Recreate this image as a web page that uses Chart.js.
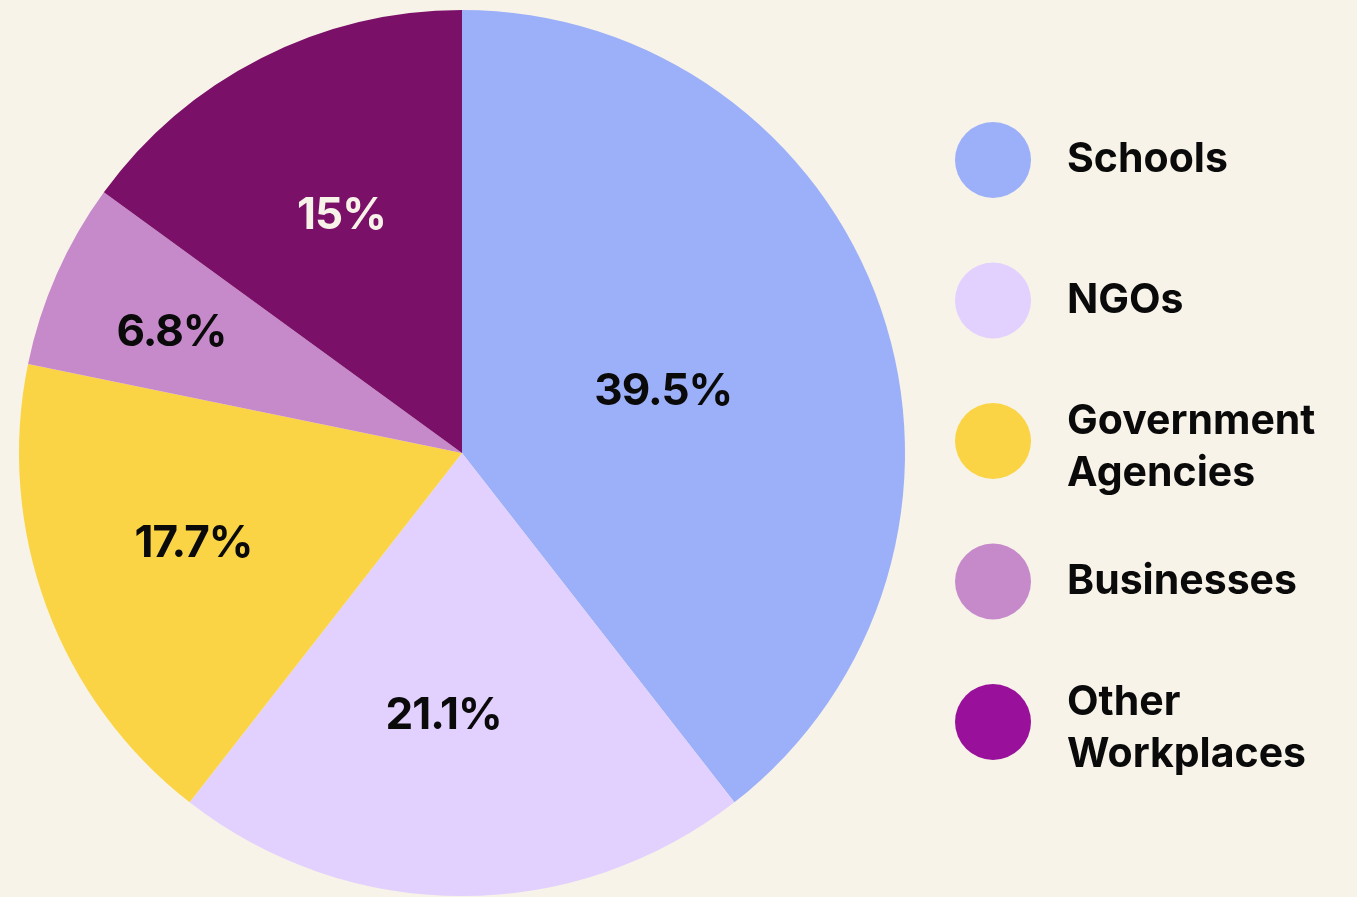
<!DOCTYPE html>
<html>
<head>
<meta charset="utf-8">
<script src="https://cdn.jsdelivr.net/npm/chart.js@4.4.1/dist/chart.umd.min.js"></script>
<style>
  html, body { margin: 0; padding: 0; background: #F7F3E9; }
  #wrap { width: 1357px; height: 897px; position: relative; }
</style>
</head>
<body>
<div id="wrap"><canvas id="pie"></canvas></div>
<script>
const categories = ['Schools', 'NGOs', 'Government Agencies', 'Businesses', 'Other Workplaces']
const legendLines = [['Schools'], ['NGOs'], ['Government', 'Agencies'], ['Businesses'], ['Other', 'Workplaces']]
const shares = [39.5, 21.1, 17.7, 6.8, 15]
const shareLabels = ['39.5%', '21.1%', '17.7%', '6.8%', '15%']

const sliceColors = ['#9CAFF9', '#E2D0FE', '#FAD444', '#C68ACB', '#7B1068']
const legendColors = ['#9CAFF9', '#E2D0FE', '#FAD444', '#C68ACB', '#99119A']
const labelColors = ['#0A0A0A', '#0A0A0A', '#0A0A0A', '#0A0A0A', '#F7F3E9']
// where each percentage sits: fraction of radius, and nudge in degrees
const labelRadius = [0.475, 0.595, 0.64, 0.71, 0.6]
const labelNudge = [2, 4, 1.5, -1.3, 0]

const FONT = 'Inter, "Liberation Sans", sans-serif'

// percentages inside the slices
const sliceLabels = {
  id: 'sliceLabels',
  afterDatasetsDraw(chart) {
    const c = chart.ctx
    const meta = chart.getDatasetMeta(0)
    c.save()
    c.font = '700 44px ' + FONT
    c.letterSpacing = '-1px'
    c.textAlign = 'center'
    c.textBaseline = 'middle'
    meta.data.forEach((arc, i) => {
      const p = arc.getProps(['x', 'y', 'startAngle', 'endAngle', 'outerRadius'], true)
      const mid = (p.startAngle + p.endAngle) / 2 + labelNudge[i] * Math.PI / 180
      const r = p.outerRadius * labelRadius[i]
      c.fillStyle = labelColors[i]
      c.fillText(shareLabels[i], p.x + Math.cos(mid) * r, p.y + Math.sin(mid) * r)
    })
    c.restore()
  }
}

// legend on the right, dots + wrapped names
const sideLegend = {
  id: 'sideLegend',
  afterDraw(chart) {
    const c = chart.ctx
    const dotX = 993, firstY = 160, step = 140.5, lineH = 52
    c.save()
    c.font = '700 41px ' + FONT
    c.textBaseline = 'middle'
    c.textAlign = 'left'
    categories.forEach((name, i) => {
      const y = firstY + i * step
      c.fillStyle = legendColors[i]
      c.beginPath()
      c.arc(dotX, y, 38, 0, Math.PI * 2)
      c.fill()
      c.fillStyle = '#0A0A0A'
      const lines = legendLines[i]
      const y0 = y - (lines.length - 1) * lineH / 2 + (lines.length > 1 ? 7 : 0)
      lines.forEach((t, j) => c.fillText(t, 1067, y0 + j * lineH))
    })
    c.restore()
  }
}

const config = {
  type: 'pie',
  data: {
    labels: categories,
    datasets: [{
      data: shares,
      backgroundColor: sliceColors,
      borderWidth: 0
    }]
  },
  options: {
    responsive: true,
    maintainAspectRatio: false,
    animation: false,
    layout: { padding: { left: 19, right: 452, top: 10, bottom: 1 } },
    plugins: {
      legend: { display: false },
      tooltip: { enabled: false }
    }
  },
  plugins: [sliceLabels, sideLegend]
}

const graph = new Chart(document.getElementById('pie'), config)
</script>
</body>
</html>
